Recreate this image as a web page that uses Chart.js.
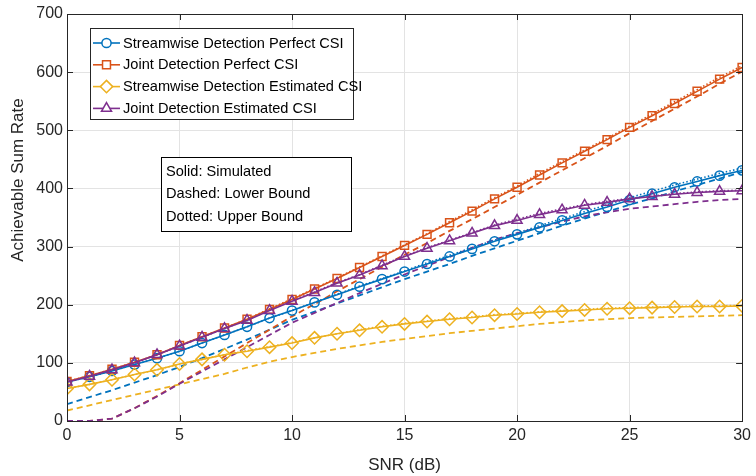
<!DOCTYPE html>
<html>
<head>
<meta charset="utf-8">
<script src="https://cdn.jsdelivr.net/npm/chart.js@4.4.1/dist/chart.umd.min.js"></script>
<style>
  html, body { margin: 0; padding: 0; background: #ffffff; }
  #wrap { position: relative; width: 756px; height: 476px; }
  canvas { display: block; }
</style>
</head>
<body>
<div id="wrap"><canvas id="c" width="756" height="476"></canvas></div>
<script>
// ---------- data ----------
const snr = [0,1,2,3,4,5,6,7,8,9,10,11,12,13,14,15,16,17,18,19,20,21,22,23,24,25,26,27,28,29,30];

// Simulated (solid)
const sdPerfectSim = [67,76,86,97,108,120,134,148,162,177,190,204,217,231,244,257,270,283,296,309,321,333,345,357,368,380,391,402,412,422,431];
const jdPerfectSim = [68,78,89,101,114,130,145,160,175,192,209,227,245,264,283,302,321,341,361,382,402,423,444,464,484,505,525,546,567,588,608];
const sdEstSim     = [56,63,71,80,88,98,106,114,120,127,134,143,150,156,162,167,171,175,178,182,184,187,189,191,193,194,195,196,197,197,198];
const jdEstSim     = [67,77,88,100,114,129,144,159,173,190,206,221,237,251,267,283,297,310,323,336,345,355,363,371,376,382,386,390,393,395,396];

// Lower bounds (dashed)
const sdPerfectLB = [29,41,53,66,79,93,108,124,140,157,174,188,202,216,230,244,257,270,284,297,310,323,336,348,360,372,383,395,406,417,428];
const jdPerfectLB = [0,0,4,22,43,65,88,111,134,157,180,201,223,244,265,286,306,327,347,368,389,410,431,452,473,495,516,537,558,580,601];
const sdEstLB     = [18,27,36,45,54,63,72,81,92,102,110,117,124,130,136,141,146,151,155,159,163,167,170,173,175,177,178,179,180,181,182];
const jdEstLB     = [0,0,4,22,42,64,85,106,127,148,169,186,203,220,236,252,267,282,298,312,323,333,343,352,359,365,369,373,377,380,382];

// Upper bounds (dotted)
const sdPerfectUB = [67,76,86,97,108,120,134,148,162,177,190,204,218,232,245,258,272,285,298,311,323,336,348,360,372,384,395,406,416,426,435];
const jdPerfectUB = [68,78,89,101,114,130,145,160,175,193,210,228,246,265,284,303,322,343,363,384,404,426,446,466,486,507,528,549,570,591,611];
const sdEstUB     = [56,63,71,80,88,98,106,114,121,128,135,143,150,157,163,168,172,176,179,183,185,188,190,192,194,195,196,197,198,198,199];
const jdEstUB     = [67,77,88,100,114,129,144,159,174,191,207,222,238,252,268,284,298,311,324,337,347,357,365,372,378,383,387,391,394,396,397];

const seriesNames = ['Streamwise Detection Perfect CSI','Joint Detection Perfect CSI','Streamwise Detection Estimated CSI','Joint Detection Estimated CSI'];
const noteLines = ['Solid: Simulated','Dashed: Lower Bound','Dotted: Upper Bound'];
const xTicks = [0,5,10,15,20,25,30];
const yTicks = [0,100,200,300,400,500,600,700];
const xTitle = 'SNR (dB)';
const yTitle = 'Achievable Sum Rate';

// ---------- styles ----------
const colors = ['#0072BD','#D95319','#EDB120','#7E2F8E'];
const markers = ['circle','rect','rectRot','triangle'];
const markerR = [4.6,5.6,6.2,5.8];
const FONT = '"Liberation Sans", Arial, Helvetica, sans-serif';

function pts(arr){ return snr.map((x,i)=>({x:x,y:arr[i]})); }

const sims = [sdPerfectSim, jdPerfectSim, sdEstSim, jdEstSim];
const lbs  = [sdPerfectLB, jdPerfectLB, sdEstLB, jdEstLB];
const ubs  = [sdPerfectUB, jdPerfectUB, sdEstUB, jdEstUB];

// Chart.js draws higher "order" first (underneath)
const datasets = [];
for (let k=0;k<4;k++){
  datasets.push({label: seriesNames[k]+' LB', data: pts(lbs[k]), borderColor: colors[k], borderWidth: 1.8,
    borderDash:[6,4], pointRadius:0, fill:false, tension:0, order: 20 - k});
}
for (let k=0;k<4;k++){
  datasets.push({label: seriesNames[k]+' UB', data: pts(ubs[k]), borderColor: colors[k], borderWidth: 1.6,
    borderDash:[1.5,2.2], pointRadius:0, fill:false, tension:0, order: 10 - k});
}
for (let k=0;k<4;k++){
  datasets.push({label: seriesNames[k], data: pts(sims[k]), borderColor: colors[k], borderWidth: 1.6,
    pointStyle: markers[k], pointRadius: markerR[k], pointBorderWidth: 1.5,
    pointBackgroundColor: 'rgba(0,0,0,0)', pointBorderColor: colors[k], fill:false, tension:0, order: 5 - k});
}

const decor = {
  id: 'decor',
  afterDraw(chart){
    const ctx = chart.ctx;
    ctx.save();
    ctx.fillStyle = '#262626';
    ctx.font = '17px ' + FONT;
    ctx.textAlign = 'center'; ctx.textBaseline = 'middle';
    ctx.translate(18, 180);
    ctx.rotate(-Math.PI/2);
    ctx.fillText(yTitle, 0, 0);
    ctx.restore();
  },
  afterDatasetsDraw(chart){
    const ctx = chart.ctx, a = chart.chartArea;
    const xs = chart.scales.x, ys = chart.scales.y;
    ctx.save();
    // axes box
    ctx.strokeStyle = '#262626'; ctx.lineWidth = 1;
    ctx.strokeRect(Math.round(a.left)+0.5, Math.round(a.top)+0.5, Math.round(a.right-a.left), Math.round(a.bottom-a.top));
    // inward ticks
    const tl = 6;
    ctx.beginPath();
    xTicks.forEach(v=>{
      const px = Math.round(xs.getPixelForValue(v))+0.5;
      ctx.moveTo(px, a.bottom); ctx.lineTo(px, a.bottom-tl);
      ctx.moveTo(px, a.top); ctx.lineTo(px, a.top+tl);
    });
    yTicks.forEach(v=>{
      const py = Math.round(ys.getPixelForValue(v))+0.5;
      ctx.moveTo(a.left, py); ctx.lineTo(a.left+tl, py);
      ctx.moveTo(a.right, py); ctx.lineTo(a.right-tl, py);
    });
    ctx.stroke();

    // legend
    const lx = 90.5, ly = 28.5, lw = 263, lh = 91;
    ctx.fillStyle = '#ffffff'; ctx.fillRect(lx, ly, lw, lh);
    ctx.strokeStyle = '#262626'; ctx.lineWidth = 1; ctx.strokeRect(lx, ly, lw, lh);
    ctx.font = '14.6px ' + FONT; ctx.textBaseline = 'middle'; ctx.textAlign = 'left';
    for (let k=0;k<4;k++){
      const cy = 43 + k*21.8;
      ctx.strokeStyle = colors[k]; ctx.lineWidth = 1.6; ctx.setLineDash([]);
      ctx.beginPath(); ctx.moveTo(93, cy); ctx.lineTo(120, cy); ctx.stroke();
      ctx.lineWidth = 1.5;
      ctx.fillStyle = '#ffffff';
      Chart.helpers.drawPoint(ctx, {pointStyle: markers[k], radius: markerR[k], rotation: 0, borderWidth: 1.5}, 106.5, cy);
      ctx.fillStyle = '#000000';
      ctx.fillText(seriesNames[k], 123, cy+0.5);
    }
    // note box
    const nx = 161.5, ny = 157.5, nw = 190, nh = 74;
    ctx.fillStyle = '#ffffff'; ctx.fillRect(nx, ny, nw, nh);
    ctx.strokeStyle = '#000000'; ctx.lineWidth = 1; ctx.strokeRect(nx, ny, nw, nh);
    ctx.fillStyle = '#000000';
    noteLines.forEach((t,i)=>{ ctx.fillText(t, 166, 172 + i*22.3); });
    ctx.restore();
  }
};

new Chart(document.getElementById('c'), {
  type: 'line',
  data: { datasets: datasets },
  options: {
    responsive: false,
    animation: false,
    devicePixelRatio: 1,
    layout: { padding: { top: 14, right: 11, left: 0, bottom: 0 } },
    plugins: { legend: { display: false }, tooltip: { enabled: false } },
    scales: {
      x: {
        type: 'linear', min: 0, max: 30,
        afterBuildTicks: (s)=>{ s.ticks = xTicks.map(v=>({value:v})); },
        afterFit: (s)=>{ s.height = 55; },
        ticks: { font: { size: 16, family: FONT }, color: '#262626', padding: 5, maxRotation: 0 },
        grid: { color: '#e3e3e3', lineWidth: 1, drawTicks: false },
        border: { display: false },
        title: { display: true, text: xTitle, font: { size: 17, family: FONT }, color: '#262626', padding: { top: 4, bottom: 0 } }
      },
      y: {
        type: 'linear', min: 0, max: 700,
        afterBuildTicks: (s)=>{ s.ticks = yTicks.map(v=>({value:v})); },
        afterFit: (s)=>{ s.width = 67; },
        ticks: { font: { size: 16, family: FONT }, color: '#262626', padding: 4 },
        grid: { color: '#e3e3e3', lineWidth: 1, drawTicks: false },
        border: { display: false },
        title: { display: false }
      }
    }
  },
  plugins: [decor]
});
</script>
</body>
</html>
